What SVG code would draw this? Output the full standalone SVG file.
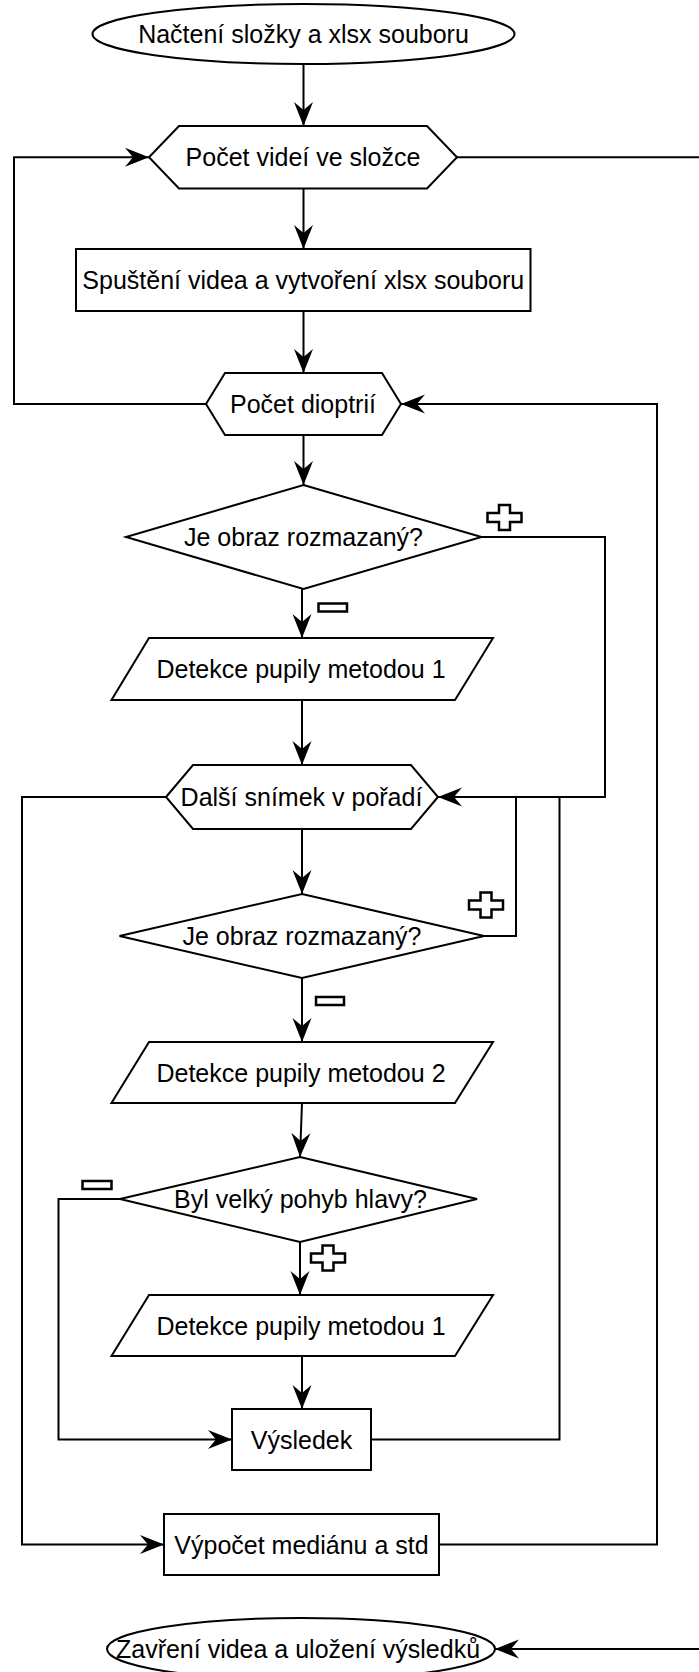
<svg xmlns="http://www.w3.org/2000/svg" width="699" height="1672" viewBox="0 0 699 1672">
<style>
.s{fill:#fff;stroke:#000;stroke-width:2}
.t{font-family:"Liberation Sans",Arial,sans-serif;font-size:25px;fill:#000;text-anchor:middle}
.c{fill:none;stroke:#000;stroke-width:2}
.a{marker-end:url(#ah)}
.lb{fill:#fff;stroke:#000;stroke-width:2.5}
</style>
<defs>
<marker id="ah" markerUnits="userSpaceOnUse" viewBox="-26 -11 27 22" refX="0" refY="0" markerWidth="27" markerHeight="22" orient="auto">
<path d="M0,0 L-24,-9.5 L-16,0 L-24,9.5 Z" fill="#000"/>
</marker>
<path id="plus" d="M-5.5,-12.5 H5.5 V-4.5 H17 V4.5 H5.5 V12.5 H-5.5 V4.5 H-17 V-4.5 H-5.5 Z"/>
</defs>
<rect width="699" height="1672" fill="#fff"/>

<g id="connectors">
<path class="c a" d="M303.5,64 V126"/>
<path class="c a" d="M303.5,188.5 V249"/>
<path class="c a" d="M303.5,311 V373"/>
<path class="c a" d="M206,404 H14 V157.3 H149"/>
<path class="c a" d="M457,157.3 H710 V1649 H495"/>
<path class="c a" d="M303.5,435 V485"/>
<path class="c a" d="M481.5,537 H605 V797 H438"/>
<path class="c a" d="M302,589 V638"/>
<path class="c a" d="M302,700 V765"/>
<path class="c a" d="M166,797 H22 V1544.5 H164"/>
<path class="c a" d="M302,829 V894"/>
<path class="c" d="M484,936 H516 V797"/>
<path class="c a" d="M302,978 V1042"/>
<path class="c a" d="M302,1103 L300,1157"/>
<path class="c a" d="M120,1199 H58.5 V1439.5 H232"/>
<path class="c a" d="M300,1242 V1295"/>
<path class="c a" d="M302,1356 V1409"/>
<path class="c" d="M371,1439.5 H559.5 V797"/>
<path class="c a" d="M439,1544.5 H657 V404 H401"/>
</g>

<g id="labels">
<use href="#plus" class="lb" transform="translate(504.5,517.5)"/>
<use href="#plus" class="lb" transform="translate(486,905)"/>
<use href="#plus" class="lb" transform="translate(328,1258)"/>
<rect class="lb" x="318.5" y="603.5" width="28.5" height="8"/>
<rect class="lb" x="316" y="997" width="28" height="8"/>
<rect class="lb" x="82.5" y="1181" width="29" height="8"/>
</g>

<g id="start">
<ellipse class="s" cx="303.5" cy="34" rx="211" ry="30"/>
<text class="t" x="303.5" y="43">Načtení složky a xlsx souboru</text>
</g>
<g id="pocet-videi">
<polygon class="s" points="149,157.3 179,126 427,126 457,157.3 427,188.5 179,188.5"/>
<text class="t" x="303" y="166.3">Počet videí ve složce</text>
</g>
<g id="spusteni">
<rect class="s" x="76" y="249" width="454.5" height="62"/>
<text class="t" x="303.3" y="289">Spuštění videa a vytvoření xlsx souboru</text>
</g>
<g id="pocet-dioptrii">
<polygon class="s" points="206,404 225,373 382,373 401,404 382,435 225,435"/>
<text class="t" x="303" y="413">Počet dioptrií</text>
</g>
<g id="rozmazany1">
<polygon class="s" points="303.5,485 481.5,537 303.5,589 126,537"/>
<text class="t" x="303.5" y="546">Je obraz rozmazaný?</text>
</g>
<g id="detekce1a">
<polygon class="s" points="149,638 493,638 455,700 111.5,700"/>
<text class="t" x="301" y="678">Detekce pupily metodou 1</text>
</g>
<g id="dalsi-snimek">
<polygon class="s" points="166,797 193,765 411,765 438,797 411,829 193,829"/>
<text class="t" x="301.5" y="806">Další snímek v pořadí</text>
</g>
<g id="rozmazany2">
<polygon class="s" points="302,894 484,936 302,978 119.5,936"/>
<text class="t" x="302" y="945">Je obraz rozmazaný?</text>
</g>
<g id="detekce2">
<polygon class="s" points="149,1042 493,1042 455,1103 111.5,1103"/>
<text class="t" x="301" y="1081.5">Detekce pupily metodou 2</text>
</g>
<g id="pohyb-hlavy">
<polygon class="s" points="300,1157 477,1199 300,1242 120,1199"/>
<text class="t" x="300.5" y="1208">Byl velký pohyb hlavy?</text>
</g>
<g id="detekce1b">
<polygon class="s" points="149,1295 493,1295 455,1356 111.5,1356"/>
<text class="t" x="301" y="1334.5">Detekce pupily metodou 1</text>
</g>
<g id="vysledek">
<rect class="s" x="232" y="1409" width="139" height="61"/>
<text class="t" x="301.5" y="1448.5">Výsledek</text>
</g>
<g id="vypocet">
<rect class="s" x="164" y="1514" width="275" height="61"/>
<text class="t" x="301.5" y="1553.5">Výpočet mediánu a std</text>
</g>
<g id="end">
<ellipse class="s" cx="301" cy="1649" rx="194" ry="31"/>
<text class="t" x="298" y="1658">Zavření videa a uložení výsledků</text>
</g>
</svg>
